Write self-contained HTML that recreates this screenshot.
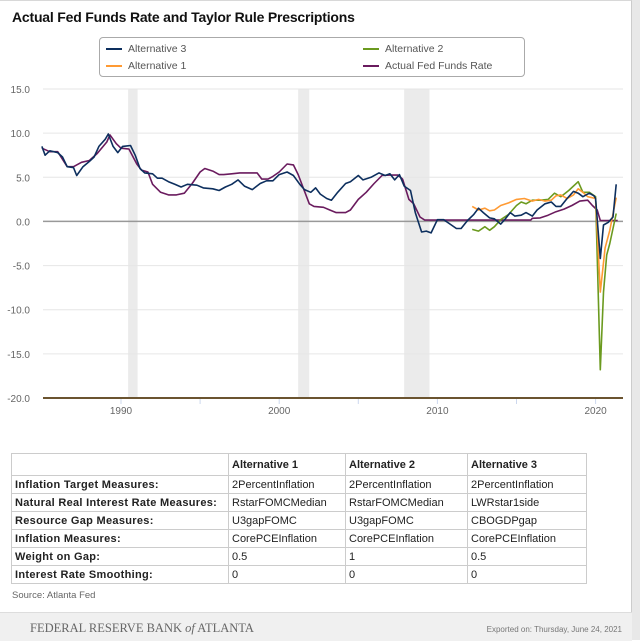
<!DOCTYPE html>
<html><head><meta charset="utf-8"><style>
body{margin:0;width:640px;height:640px;background:#fff;font-family:"Liberation Sans",sans-serif;overflow:hidden;position:relative}
#frame{position:absolute;left:0;top:0;width:631px;height:639px;border-top:1px solid #d8d8d8;border-right:1px solid #ccc}
#strip{position:absolute;left:632px;top:0;width:8px;height:640px;background:#e8e8e8}
h1{position:absolute;left:12px;top:9px;margin:0;font-size:14px;font-weight:bold;color:#111;letter-spacing:-0.2px}
#legend{position:absolute;left:99px;top:37px;width:426px;height:40px;border:1px solid #aaa;border-radius:4px;box-sizing:border-box;font-size:10.5px;color:#555}
.li{position:absolute;display:flex;align-items:center}
.li span.sw{display:inline-block;width:16px;height:2px;margin-right:6px}
table{position:absolute;left:11px;top:453px;border-collapse:collapse;font-size:11px;width:576px}
td{border:1px solid #ccc;padding:0 3px;height:17px;color:#222;white-space:nowrap}
td.h{font-weight:bold;letter-spacing:0.3px}
tr.hd td{height:21px;font-weight:bold;background:#fff}
#src{position:absolute;left:12px;top:590px;font-size:9.5px;color:#666}
#foot{position:absolute;left:0;top:612px;width:632px;height:28px;background:#f0f0f0;border-top:1px solid #ddd}
#bank{position:absolute;left:30px;top:8px;font-family:"Liberation Serif",serif;font-size:12.5px;color:#666}
#exp{position:absolute;right:10px;top:12px;font-size:8px;color:#777}
svg text{font-family:"Liberation Sans",sans-serif}
</style></head><body>
<div id="frame"></div>
<div id="strip"></div>
<h1>Actual Fed Funds Rate and Taylor Rule Prescriptions</h1>
<div id="legend">
 <div class="li" style="left:6px;top:5px"><span class="sw" style="background:#0d2f5e"></span>Alternative 3</div>
 <div class="li" style="left:263px;top:5px"><span class="sw" style="background:#6b9a1f"></span>Alternative 2</div>
 <div class="li" style="left:6px;top:22px"><span class="sw" style="background:#ff9a33"></span>Alternative 1</div>
 <div class="li" style="left:263px;top:22px"><span class="sw" style="background:#6a1b5e"></span>Actual Fed Funds Rate</div>
</div>
<svg id="chart" width="640" height="430" style="position:absolute;left:0;top:0"></svg>
<table>
<tr class="hd"><td style="width:210px"></td><td style="width:110px">Alternative 1</td><td style="width:115px">Alternative 2</td><td>Alternative 3</td></tr>
<tr><td class="h">Inflation Target Measures:</td><td>2PercentInflation</td><td>2PercentInflation</td><td>2PercentInflation</td></tr>
<tr><td class="h">Natural Real Interest Rate Measures:</td><td>RstarFOMCMedian</td><td>RstarFOMCMedian</td><td>LWRstar1side</td></tr>
<tr><td class="h">Resource Gap Measures:</td><td>U3gapFOMC</td><td>U3gapFOMC</td><td>CBOGDPgap</td></tr>
<tr><td class="h">Inflation Measures:</td><td>CorePCEInflation</td><td>CorePCEInflation</td><td>CorePCEInflation</td></tr>
<tr><td class="h">Weight on Gap:</td><td>0.5</td><td>1</td><td>0.5</td></tr>
<tr><td class="h">Interest Rate Smoothing:</td><td>0</td><td>0</td><td>0</td></tr>
</table>
<div id="src">Source: Atlanta Fed</div>
<div id="foot"><div id="bank">FEDERAL RESERVE BANK <i>of</i> ATLANTA</div><div id="exp">Exported on: Thursday, June 24, 2021</div></div>
<script>
const yTicks=[15,10,5,0,-5,-10,-15,-20];
const xTicks=[1990,2000,2010,2020];
const recessions=[[1990.45,1991.05],[2001.2,2001.9],[2007.9,2009.5]];
const actualX=[1985,1985.5,1986,1986.6,1987,1987.5,1988,1988.5,1989.1,1989.3,1989.7,1990,1990.5,1991,1991.3,1991.7,1992,1992.5,1993,1993.5,1994,1994.5,1995,1995.3,1995.8,1996.2,1996.5,1997,1997.5,1998,1998.6,1998.9,1999.3,1999.6,2000,2000.5,2000.9,2001.2,2001.5,2001.9,2002.2,2002.8,2003.2,2003.6,2004.2,2004.5,2005,2005.5,2006,2006.5,2007,2007.5,2007.8,2008.2,2008.5,2008.9,2009.2,2015.9,2016,2016.5,2017,2017.5,2018,2018.5,2019,2019.5,2019.8,2020.1,2020.3,2021.4];
const actualY=[8.3,7.9,7.9,6.2,6.2,6.7,6.9,7.7,9.0,9.8,8.8,8.3,8.2,6.5,5.8,5.6,4.2,3.3,3.0,3.0,3.2,4.3,5.6,6.0,5.7,5.3,5.3,5.4,5.5,5.5,5.5,4.8,4.8,5.1,5.6,6.5,6.4,5.3,3.9,2.0,1.7,1.6,1.3,1.0,1.0,1.3,2.5,3.3,4.3,5.2,5.25,5.25,4.8,2.5,2.0,0.5,0.15,0.15,0.35,0.4,0.7,1.1,1.4,1.8,2.3,2.4,1.8,1.3,0.1,0.1];
const alt3X=[1985,1985.2,1985.5,1986,1986.3,1986.6,1987,1987.2,1987.6,1988,1988.3,1988.6,1989,1989.2,1989.5,1989.8,1990.1,1990.6,1990.9,1991.2,1991.5,1992,1992.3,1992.6,1993,1993.4,1993.8,1994.2,1994.8,1995.2,1995.8,1996.2,1996.6,1997,1997.4,1997.8,1998.3,1998.8,1999.2,1999.6,2000,2000.5,2000.9,2001.3,2001.6,2002,2002.3,2002.6,2003,2003.3,2003.7,2004.2,2004.5,2005,2005.3,2005.8,2006.3,2006.7,2007,2007.3,2007.6,2007.9,2008.3,2008.6,2009,2009.3,2009.6,2010,2010.4,2010.8,2011.2,2011.5,2011.9,2012.3,2012.6,2012.9,2013.3,2013.6,2014,2014.3,2014.6,2014.9,2015.3,2015.6,2016,2016.3,2016.8,2017.2,2017.5,2017.8,2018.2,2018.6,2018.9,2019.2,2019.6,2019.9,2020,2020.3,2020.5,2020.8,2021.1,2021.3];
const alt3Y=[8.5,7.5,8.0,7.8,7.3,6.2,6.1,5.2,6.2,6.8,7.3,8.5,9.3,9.9,8.5,7.8,8.5,8.6,7.5,6.0,5.5,5.4,4.9,4.9,4.5,4.2,3.9,4.2,4.1,3.8,3.7,3.5,3.9,4.2,4.7,4.0,3.6,4.3,4.6,4.6,5.3,5.6,5.2,4.2,3.6,3.3,3.8,3.1,2.6,2.4,3.3,4.3,4.5,5.2,4.7,5.0,5.5,5.2,5.4,4.7,5.3,4.0,3.5,1.0,-1.2,-1.1,-1.3,0.2,0.2,-0.3,-0.8,-0.8,0.1,0.8,1.5,1.0,0.4,0.3,-0.3,0.3,1.0,0.6,0.7,1.0,0.6,1.3,2.0,2.2,1.7,1.7,2.6,3.4,3.2,2.8,3.2,2.9,2.6,-4.2,-0.4,-0.1,0.5,4.2];
const alt1X=[2012.2,2012.6,2013,2013.3,2013.6,2014,2014.5,2015,2015.5,2016,2016.4,2016.8,2017.2,2017.5,2017.8,2018.2,2018.6,2018.9,2019.2,2019.5,2020,2020.3,2020.6,2020.9,2021.3];
const alt1Y=[1.7,1.3,1.5,1.2,1.3,1.8,2.1,2.5,2.6,2.3,2.5,2.3,2.4,2.9,3.0,2.6,3.0,3.7,3.3,2.8,2.6,-8.0,-3.0,-1.0,2.7];
const alt2X=[2012.2,2012.6,2013,2013.3,2013.6,2014,2014.5,2015,2015.3,2015.6,2016,2016.5,2017,2017.4,2017.8,2018.3,2018.9,2019.2,2019.6,2020,2020.3,2020.5,2020.7,2020.9,2021.3];
const alt2Y=[-0.9,-1.1,-0.6,-1.0,-0.6,0.2,0.8,1.8,2.2,2.0,2.4,2.4,2.5,3.2,2.8,3.5,4.5,3.3,3.3,2.8,-16.8,-8,-3.8,-2.5,0.9];

const NS='http://www.w3.org/2000/svg';
const svg=document.getElementById('chart');
const L=43,R=623,T=89,B=398;
const xS=v=>121+(v-1990)*15.82;
const yS=v=>T+(15-v)*(B-T)/35;
function mk(tag,at,parent){const e=document.createElementNS(NS,tag);for(const k in at)e.setAttribute(k,at[k]);(parent||svg).appendChild(e);return e;}
recessions.forEach(r=>{
 const e=mk('rect',{x:xS(r[0]),y:T,width:xS(r[1])-xS(r[0]),height:B-T,fill:'#ebebeb'});
 
 
});
yTicks.forEach(v=>{
 const g=mk('line',{x1:L,x2:R,y1:yS(v),y2:yS(v),stroke:v===0?'#999':'#e6e6e6','stroke-width':v===0?1.5:1});
 
 
 const t=mk('text',{x:30,y:yS(v)+4,'text-anchor':'end','font-size':10,fill:'#666'});
 t.textContent=v.toFixed(1);
 
 
});
[1995,2005,2015].concat(xTicks).forEach(v=>{
 const tk=mk('line',{x1:xS(v),x2:xS(v),y1:B,y2:B+6,stroke:'#cdd8ee'});
 
 
});
xTicks.forEach(v=>{
 const t=mk('text',{x:xS(v),y:B+16,'text-anchor':'middle','font-size':10,fill:'#666'});
 t.textContent=v;
 
 
});
const ax=mk('line',{x1:L,x2:R,y1:B,y2:B,stroke:'#6b5430','stroke-width':2});


function series(xs,ys,color,name){
 const d=xs.map((x,i)=>(i?'L':'M')+xS(x).toFixed(1)+','+yS(ys[i]).toFixed(1)).join('');
 const p=mk('path',{d:d,fill:'none',stroke:color,'stroke-width':1.6,'stroke-linejoin':'round'});
 
 
}
series(actualX,actualY,'#6a1b5e','series-actual-fed-funds');
series(alt2X,alt2Y,'#6b9a1f','series-alternative-2');
series(alt1X,alt1Y,'#ff9a33','series-alternative-1');
series(alt3X,alt3Y,'#0d2f5e','series-alternative-3');
</script>
</body></html>
